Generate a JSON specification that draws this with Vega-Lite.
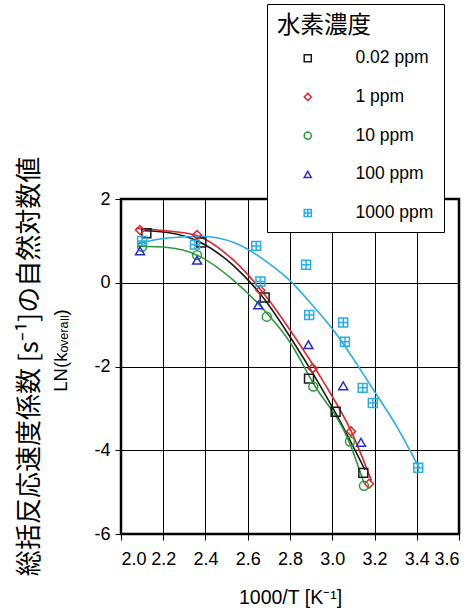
{
  "$schema": "https://vega.github.io/schema/vega-lite/v6.json",
  "autosize": {"type": "none"},
  "width": 338,
  "height": 335,
  "padding": {"left": 121, "top": 199, "right": 13, "bottom": 75},
  "background": "white",
  "title": {
    "text": "総括反応速度係数 [s⁻¹]の自然対数値",
    "orient": "left",
    "anchor": "middle",
    "frame": "group",
    "offset": 8,
    "font": "Noto Sans CJK JP",
    "fontSize": 26,
    "fontWeight": "normal",
    "color": "black"
  },
  "config": {
    "view": {"stroke": "black", "strokeWidth": 2.5},
    "axis": {
      "grid": true,
      "gridColor": "black",
      "gridOpacity": 1,
      "gridWidth": 1,
      "domain": false,
      "tickColor": "black",
      "tickSize": 6,
      "tickWidth": 1,
      "labelFont": "Liberation Sans",
      "labelFontSize": 18,
      "labelColor": "black",
      "titleFont": "Liberation Sans",
      "titleFontSize": 19.5,
      "titleFontWeight": "normal",
      "titleColor": "black"
    }
  },
  "datasets": {
    "pts": [
      {"c": "0.02 ppm", "x": 2.12, "y": 1.18},
      {"c": "0.02 ppm", "x": 2.38, "y": 0.96},
      {"c": "0.02 ppm", "x": 2.68, "y": -0.35},
      {"c": "0.02 ppm", "x": 2.89, "y": -2.29},
      {"c": "0.02 ppm", "x": 3.016, "y": -3.08},
      {"c": "0.02 ppm", "x": 3.147, "y": -4.54},
      {"c": "1 ppm", "x": 2.09, "y": 1.26},
      {"c": "1 ppm", "x": 2.36, "y": 1.14},
      {"c": "1 ppm", "x": 2.66, "y": -0.18},
      {"c": "1 ppm", "x": 2.907, "y": -2.04},
      {"c": "1 ppm", "x": 3.089, "y": -3.55},
      {"c": "1 ppm", "x": 3.174, "y": -4.8},
      {"c": "10 ppm", "x": 2.1, "y": 0.86},
      {"c": "10 ppm", "x": 2.36, "y": 0.66},
      {"c": "10 ppm", "x": 2.69, "y": -0.81},
      {"c": "10 ppm", "x": 2.91, "y": -2.48},
      {"c": "10 ppm", "x": 3.084, "y": -3.79},
      {"c": "10 ppm", "x": 3.15, "y": -4.85},
      {"c": "100 ppm", "x": 2.09, "y": 0.76},
      {"c": "100 ppm", "x": 2.36, "y": 0.54},
      {"c": "100 ppm", "x": 2.65, "y": -0.53},
      {"c": "100 ppm", "x": 2.887, "y": -1.48},
      {"c": "100 ppm", "x": 3.052, "y": -2.46},
      {"c": "100 ppm", "x": 3.136, "y": -3.81},
      {"c": "1000 ppm", "x": 2.1, "y": 1.0},
      {"c": "1000 ppm", "x": 2.35, "y": 0.91},
      {"c": "1000 ppm", "x": 2.64, "y": 0.88},
      {"c": "1000 ppm", "x": 2.66, "y": 0.03},
      {"c": "1000 ppm", "x": 2.876, "y": 0.43},
      {"c": "1000 ppm", "x": 2.891, "y": -0.77},
      {"c": "1000 ppm", "x": 3.052, "y": -0.95},
      {"c": "1000 ppm", "x": 3.06, "y": -1.41},
      {"c": "1000 ppm", "x": 3.144, "y": -2.51},
      {"c": "1000 ppm", "x": 3.192, "y": -2.87},
      {"c": "1000 ppm", "x": 3.407, "y": -4.42}
    ],
    "curves": [
      {"c": "0.02 ppm", "x": 2.11, "y": 1.24},
      {"c": "0.02 ppm", "x": 2.22, "y": 1.2},
      {"c": "0.02 ppm", "x": 2.37, "y": 0.98},
      {"c": "0.02 ppm", "x": 2.53, "y": 0.42},
      {"c": "0.02 ppm", "x": 2.68, "y": -0.4},
      {"c": "0.02 ppm", "x": 2.8, "y": -1.29},
      {"c": "0.02 ppm", "x": 2.93, "y": -2.35},
      {"c": "0.02 ppm", "x": 3.02, "y": -3.15},
      {"c": "0.02 ppm", "x": 3.155, "y": -4.47},
      {"c": "1 ppm", "x": 2.07, "y": 1.3},
      {"c": "1 ppm", "x": 2.21, "y": 1.24},
      {"c": "1 ppm", "x": 2.35, "y": 1.14},
      {"c": "1 ppm", "x": 2.53, "y": 0.55},
      {"c": "1 ppm", "x": 2.705, "y": -0.45},
      {"c": "1 ppm", "x": 2.8, "y": -1.13},
      {"c": "1 ppm", "x": 2.96, "y": -2.38},
      {"c": "1 ppm", "x": 3.09, "y": -3.55},
      {"c": "1 ppm", "x": 3.185, "y": -4.72},
      {"c": "10 ppm", "x": 2.08, "y": 0.87},
      {"c": "10 ppm", "x": 2.22, "y": 0.84},
      {"c": "10 ppm", "x": 2.36, "y": 0.66},
      {"c": "10 ppm", "x": 2.53, "y": 0.07},
      {"c": "10 ppm", "x": 2.7, "y": -0.78},
      {"c": "10 ppm", "x": 2.8, "y": -1.42},
      {"c": "10 ppm", "x": 2.91, "y": -2.4},
      {"c": "10 ppm", "x": 3.08, "y": -3.8},
      {"c": "10 ppm", "x": 3.15, "y": -4.78},
      {"c": "1000 ppm", "x": 2.08, "y": 0.94},
      {"c": "1000 ppm", "x": 2.22, "y": 1.07},
      {"c": "1000 ppm", "x": 2.38, "y": 1.11},
      {"c": "1000 ppm", "x": 2.54, "y": 0.95},
      {"c": "1000 ppm", "x": 2.69, "y": 0.5},
      {"c": "1000 ppm", "x": 2.8, "y": 0.05},
      {"c": "1000 ppm", "x": 2.9, "y": -0.5},
      {"c": "1000 ppm", "x": 3.005, "y": -1.13},
      {"c": "1000 ppm", "x": 3.13, "y": -2.05},
      {"c": "1000 ppm", "x": 3.19, "y": -2.52},
      {"c": "1000 ppm", "x": 3.305, "y": -3.43},
      {"c": "1000 ppm", "x": 3.41, "y": -4.41}
    ]
  },
  "encoding": {
    "x": {
      "field": "x",
      "type": "quantitative",
      "scale": {"domain": [2.0, 3.6], "nice": false, "zero": false},
      "axis": {
        "values": [2.0, 2.2, 2.4, 2.6, 2.8, 3.0, 3.2, 3.4, 3.6],
        "format": ".1f",
        "labelPadding": 10,
        "title": "1000/T [K⁻¹]",
        "titleBaseline": "middle",
        "titleY": 63
      }
    },
    "y": {
      "field": "y",
      "type": "quantitative",
      "scale": {"domain": [-6, 2], "nice": false, "zero": false},
      "axis": {
        "values": [-6, -4, -2, 0, 2],
        "labelExpr": "toString(datum.value)",
        "labelPadding": 5,
        "title": "LN(kₒᵥₑᵣₐₗₗ)",
        "titleFontSize": 18.5,
        "titleBaseline": "middle",
        "titleX": -61,
        "titleY": 151
      }
    }
  },
  "layer": [
    {
      "data": {"name": "curves"},
      "mark": {"type": "line", "strokeWidth": 1.6, "interpolate": "monotone"},
      "encoding": {
        "stroke": {
          "field": "c",
          "type": "nominal",
          "scale": {
            "domain": ["0.02 ppm", "1 ppm", "10 ppm", "1000 ppm"],
            "range": ["#1a1a1a", "#e3242b", "#2e9a3a", "#27aee8"]
          },
          "legend": null
        }
      }
    },
    {
      "data": {"name": "pts"},
      "mark": {"type": "point", "filled": false, "strokeWidth": 1.5, "size": 80, "opacity": 1},
      "encoding": {
        "color": {
          "field": "c",
          "type": "nominal",
          "scale": {
            "domain": ["0.02 ppm", "1 ppm", "10 ppm", "100 ppm", "1000 ppm"],
            "range": ["#1a1a1a", "#e3242b", "#2e9a3a", "#2a2ad0", "#27aee8"]
          },
          "legend": {
            "title": "水素濃度",
            "orient": "none",
            "legendX": 146,
            "legendY": -195,
            "direction": "vertical",
            "titleFont": "Noto Sans CJK JP",
            "titleFontSize": 23.5,
            "titleFontWeight": "normal",
            "titleColor": "black",
            "titlePadding": 12,
            "labelFont": "Liberation Sans",
            "labelFontSize": 17.5,
            "labelColor": "black",
            "padding": 10,
            "strokeColor": "black",
            "fillColor": "white",
            "rowPadding": 19.7,
            "symbolOffset": 22,
            "labelOffset": 39,
            "symbolSize": 50,
            "symbolStrokeWidth": 1.5
          }
        },
        "shape": {
          "field": "c",
          "type": "nominal",
          "scale": {
            "domain": ["0.02 ppm", "1 ppm", "10 ppm", "100 ppm", "1000 ppm"],
            "range": ["square", "diamond", "circle", "triangle-up", "M-1,-1H1V1H-1Z M-1,0H1 M0,-1V1"]
          },
          "legend": {
            "title": "水素濃度"
          }
        }
      }
    }
  ]
}
